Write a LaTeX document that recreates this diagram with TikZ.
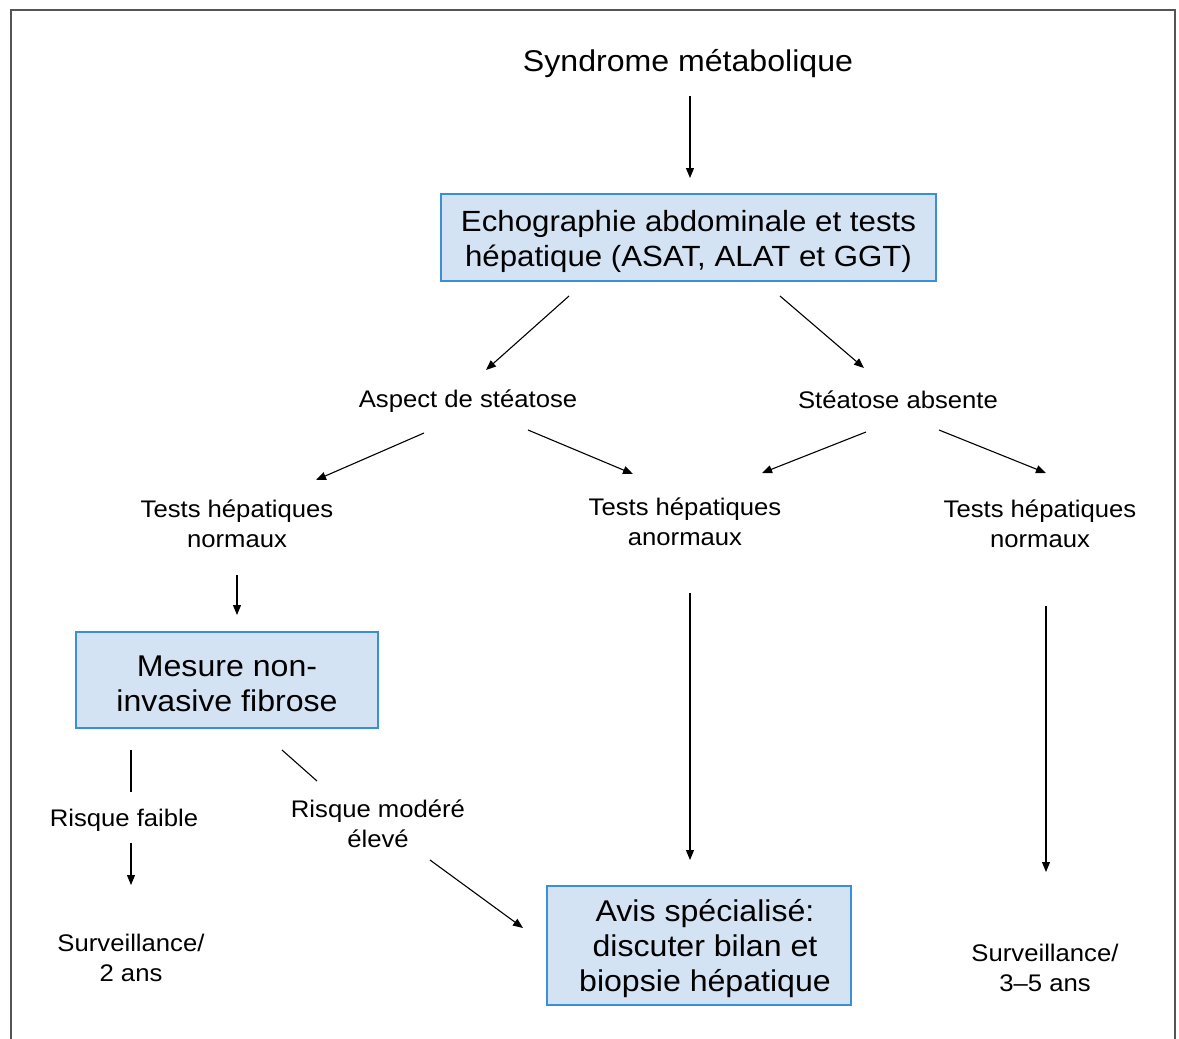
\documentclass[tikz,border=0pt]{standalone}
\usepackage{fontspec}
\setmainfont{Liberation Sans}[FakeStretch=1.07]
\usetikzlibrary{arrows.meta}
\definecolor{boxfill}{HTML}{D4E3F4}
\definecolor{boxline}{HTML}{3A8FD6}
\definecolor{frameline}{HTML}{555555}
\begin{document}
\begin{tikzpicture}[x=1pt,y=-1pt,
  bigtext/.style={font=\fontsize{30}{35}\selectfont, align=center, inner sep=0pt},
  smalltext/.style={font=\fontsize{24}{29.5}\selectfont, align=center, inner sep=0pt},
  bluebox/.style={draw=boxline, fill=boxfill, line width=1.1pt, inner sep=0pt, align=center, font=\fontsize{30}{35}\selectfont},
  arr/.style={line width=1.1pt, -{Triangle[length=10pt,width=8pt]}},
  plain/.style={line width=1.1pt}]
\useasboundingbox (0,0) rectangle (1179,1039);
\draw[frameline, line width=1.5pt] (11,1039) -- (11,10) -- (1175,10) -- (1175,1039);

% nodes
\node[bigtext] (title) at (688,64) {Syndrome métabolique};
\node[bluebox, minimum width=495pt, minimum height=87pt, font=\fontsize{29.2}{35}\selectfont] (echo) at (688.5,237.5) {\rule{0pt}{29pt}Echographie abdominale et tests\\hépatique (ASAT, ALAT et GGT)};
\node[smalltext] (aspect) at (468,401) {Aspect de stéatose};
\node[smalltext] (absente) at (898,400) {Stéatose absente};
\node[smalltext] (tn1) at (237,524) {Tests hépatiques\\normaux};
\node[smalltext] (tan) at (685,522) {Tests hépatiques\\anormaux};
\node[smalltext] (tn2) at (1040,524) {Tests hépatiques\\normaux};
\node[bluebox, minimum width=302pt, minimum height=96pt] (mesure) at (227,680) {\rule{0pt}{28pt}Mesure non-\\invasive fibrose};
\node[smalltext] (faible) at (124,820) {Risque faible};
\node[smalltext] (modere) at (378,824) {Risque modéré\\élevé};
\node[smalltext] (surv2) at (131,958) {Surveillance/\\2 ans};
\node[bluebox, minimum width=304pt, minimum height=119pt] (avis) at (699,945.5) {\rule{0pt}{29pt}\hspace*{12pt}Avis spécialisé:\\\hspace*{12pt}discuter bilan et\\\hspace*{12pt}biopsie hépatique};
\node[smalltext] (surv35) at (1045,968) {Surveillance/\\3–5 ans};

% connector end points
\coordinate (a1s) at (690,96);  \coordinate (a1e) at (690,178);
\coordinate (a2s) at (569,296); \coordinate (a2e) at (486,370);
\coordinate (a3s) at (780,296); \coordinate (a3e) at (864,368);
\coordinate (a4s) at (424,433); \coordinate (a4e) at (316,480);
\coordinate (a5s) at (528,430); \coordinate (a5e) at (633,474);
\coordinate (a6s) at (866,432); \coordinate (a6e) at (762,473);
\coordinate (a7s) at (939,430); \coordinate (a7e) at (1046,473);
\coordinate (a8s) at (237,575); \coordinate (a8e) at (237,615);
\coordinate (l1s) at (131,750); \coordinate (l1e) at (131,792);
\coordinate (l2s) at (282,750); \coordinate (l2e) at (317,781);
\coordinate (a9s) at (131,843); \coordinate (a9e) at (131,885);
\coordinate (a10s) at (430,860); \coordinate (a10e) at (523,928);
\coordinate (a11s) at (690,593); \coordinate (a11e) at (690,860);
\coordinate (a12s) at (1046,606); \coordinate (a12e) at (1046,872);

% connectors
\draw[arr] (a1s) -- (a1e);
\draw[arr] (a2s) -- (a2e);
\draw[arr] (a3s) -- (a3e);
\draw[arr] (a4s) -- (a4e);
\draw[arr] (a5s) -- (a5e);
\draw[arr] (a6s) -- (a6e);
\draw[arr] (a7s) -- (a7e);
\draw[arr] (a8s) -- (a8e);
\draw[plain] (l1s) -- (l1e);
\draw[plain] (l2s) -- (l2e);
\draw[arr] (a9s) -- (a9e);
\draw[arr] (a10s) -- (a10e);
\draw[arr] (a11s) -- (a11e);
\draw[arr] (a12s) -- (a12e);
\end{tikzpicture}
\end{document}
